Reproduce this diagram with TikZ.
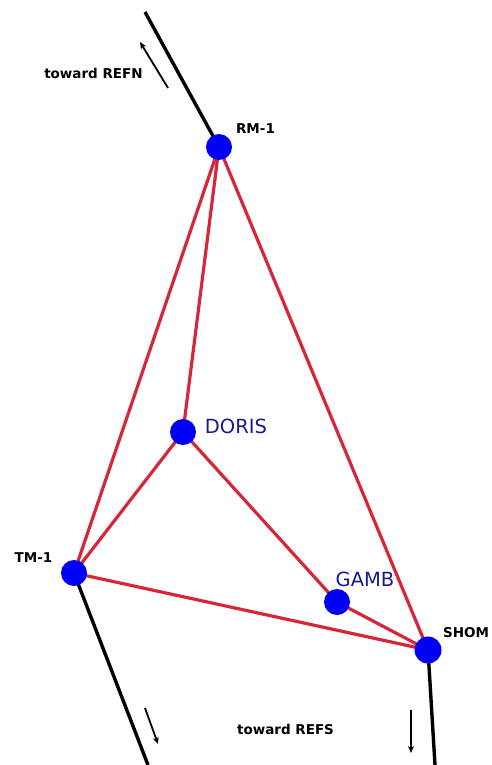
\documentclass[tikz,border=0pt]{standalone}
\usepackage{fontspec}
\setmainfont{DejaVu Sans}
\usetikzlibrary{arrows.meta}
\definecolor{edgered}{RGB}{214,38,58}
\definecolor{nodeblue}{RGB}{0,0,245}
\definecolor{labelblue}{RGB}{25,25,145}
\begin{document}
\begin{tikzpicture}[x=1pt,y=-1pt,
  stn/.style={circle,fill=nodeblue,minimum size=26pt,inner sep=0pt},
  edge/.style={draw=edgered,line width=3.2pt},
  track/.style={draw=black,line width=3.4pt},
  dir/.style={draw=black,line width=1.8pt,-{Stealth[length=7pt,width=6pt]}},
  blk/.style={font=\bfseries\fontsize{13.5}{15}\selectfont,inner sep=0pt},
  blu/.style={font=\fontsize{19.5}{22}\selectfont,text=labelblue,inner sep=0pt}]
\useasboundingbox (0,0) rectangle (491,765);
\coordinate (crm) at (219,147);
\coordinate (cdoris) at (183,432);
\coordinate (ctm) at (74,573);
\coordinate (cgamb) at (337,602);
\coordinate (cshom) at (428,650);
\coordinate (ntop) at (145,12);
\coordinate (sbl) at (148,765);
\coordinate (sbr) at (435,765);
\draw[track] (ntop) -- (crm);
\draw[track] (ctm) -- (sbl);
\draw[track] (cshom) -- (sbr);
\draw[edge] (crm) -- (ctm);
\draw[edge] (crm) -- (cdoris);
\draw[edge] (crm) -- (cshom);
\draw[edge] (cdoris) -- (ctm);
\draw[edge] (cdoris) -- (cgamb);
\draw[edge] (ctm) -- (cshom);
\draw[edge] (cgamb) -- (cshom);
\node[stn] (rm) at (crm) {};
\node[stn] (doris) at (cdoris) {};
\node[stn] (tm) at (ctm) {};
\node[stn] (gamb) at (cgamb) {};
\node[stn,minimum size=27pt] (shom) at (cshom) {};
\coordinate (a1s) at (168,88);
\coordinate (a1e) at (140,42);
\coordinate (a2s) at (145,708);
\coordinate (a2e) at (158,744);
\coordinate (a3s) at (411,710);
\coordinate (a3e) at (411,753);
\draw[dir] (a1s) -- (a1e);
\draw[dir] (a2s) -- (a2e);
\draw[dir] (a3s) -- (a3e);
\node[blk,anchor=base] (tn) at (93.5,79) {toward REFN};
\node[blk,anchor=base] (ts) at (285.5,734) {toward REFS};
\node[blk,anchor=base] (lrm) at (255.5,134) {RM-1};
\node[blk,anchor=base] (ltm) at (33.5,562) {TM-1};
\node[blk,anchor=base west] (lsh) at (443,637) {SHOM};
\node[blu,anchor=base] (ld) at (236,433) {DORIS};
\node[blu,anchor=base] (lg) at (365,586) {GAMB};
\end{tikzpicture}
\end{document}
